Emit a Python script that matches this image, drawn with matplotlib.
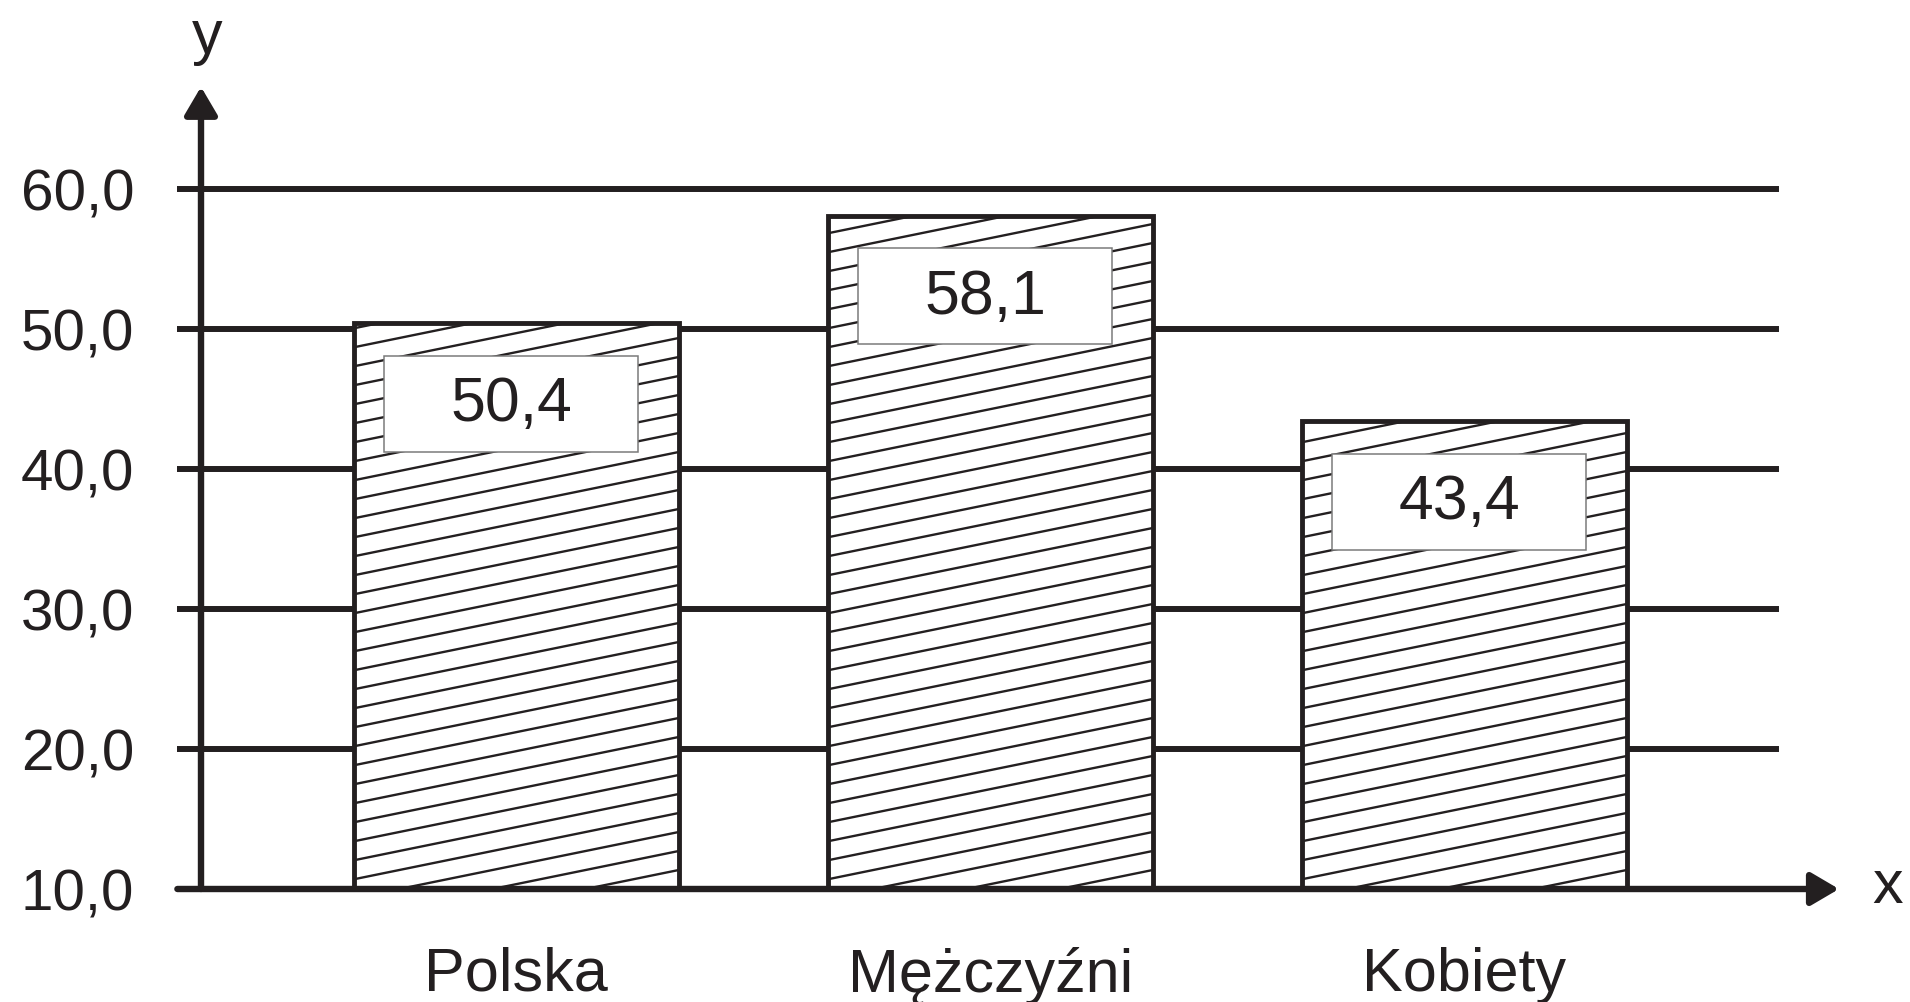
import matplotlib
matplotlib.use("Agg")
import matplotlib.pyplot as plt
import numpy as np
from matplotlib.collections import LineCollection
from matplotlib.transforms import IdentityTransform
from matplotlib.patches import Rectangle

categories = ["Polska", "Mężczyźni", "Kobiety"]
values = [50.4, 58.1, 43.4]
value_labels = ["50,4", "58,1", "43,4"]
yticks = [10, 20, 30, 40, 50, 60]
ytick_labels = ["10,0", "20,0", "30,0", "40,0", "50,0", "60,0"]

INK = "#231f20"
plt.rcParams["font.family"] = ["Liberation Sans", "DejaVu Sans"]

W, H = 1910, 1003
fig = plt.figure(figsize=(W / 100, H / 100), dpi=100)
left, right, bottom, top = 201, 1776, 890, 190
ax = fig.add_axes([left / W, 1 - bottom / H, (right - left) / W, (bottom - top) / H])
ax.set_xlim(-0.665, 2.658)
ax.set_ylim(10, 60)

for s in ax.spines.values():
    s.set_visible(False)

x = np.arange(len(categories))
bw = 0.686
base = yticks[0]
heights = [v - base for v in values]
bars = ax.bar(x, heights, width=bw, bottom=base, color="white", zorder=2)
ax.bar(x, heights, width=bw, bottom=base, fill=False,
       edgecolor=INK, linewidth=3.5, zorder=4)

# y grid lines
ax.set_yticks(yticks)
ax.set_yticklabels(ytick_labels, fontsize=42, color=INK)
ax.tick_params(axis="y", direction="out", length=17, width=4.3, color=INK, pad=31)
for t in yticks[1:]:
    ax.axhline(t, color=INK, lw=4.3, zorder=1, clip_on=False)

ax.set_xticks(x)
ax.set_xticklabels(categories, fontsize=44, color=INK)
ax.tick_params(axis="x", length=0, pad=41)

# shallow hatch lines drawn in pixel space, clipped to bars
slope = 0.204
spacing = 19.0
for b in bars:
    (px0, py0), (px1, py1) = ax.transData.transform(
        [(b.get_x(), b.get_y()), (b.get_x() + b.get_width(), b.get_y() + b.get_height())])
    segs = []
    c = py0 - slope * (px1 - px0) - spacing
    while c < py1 + spacing:
        segs.append([(px0, c), (px1, c + slope * (px1 - px0))])
        c += spacing
    lc = LineCollection(segs, colors=INK, linewidths=1.7, transform=IdentityTransform(), zorder=3)
    ax.add_collection(lc, autolim=False)
    lc.set_clip_path(b)

# value boxes
box_w = 0.536
for xi, v, lab in zip(x, values, value_labels):
    top_y = v - 2.3
    bh = 6.9
    cx = xi - 0.01
    rect = Rectangle((cx - box_w / 2, top_y - bh), box_w, bh, facecolor="white",
                     edgecolor="#7a7a7a", lw=1.1, zorder=5)
    ax.add_patch(rect)
    ax.text(cx, top_y - bh / 2, lab, ha="center", va="center", fontsize=45,
            color=INK, zorder=6)

# axes arrows
ap = dict(arrowstyle="-|>,head_length=0.85,head_width=0.5", lw=4.6, color=INK,
          mutation_scale=20, shrinkA=0, shrinkB=0)
ax.annotate("", xy=(1.04, 0), xytext=(-0.015, 0), xycoords="axes fraction",
            textcoords="axes fraction", arrowprops=ap, annotation_clip=False, zorder=7)
ax.annotate("", xy=(0, 1.146), xytext=(0, 0), xycoords="axes fraction",
            textcoords="axes fraction", arrowprops=ap, annotation_clip=False, zorder=7)

fig.text(207 / W, 1 - 37 / H, "y", ha="center", va="center", fontsize=44, color=INK)
fig.text(1888 / W, 1 - 888 / H, "x", ha="center", va="center", fontsize=44, color=INK)

fig.savefig("out.png", dpi=100)
